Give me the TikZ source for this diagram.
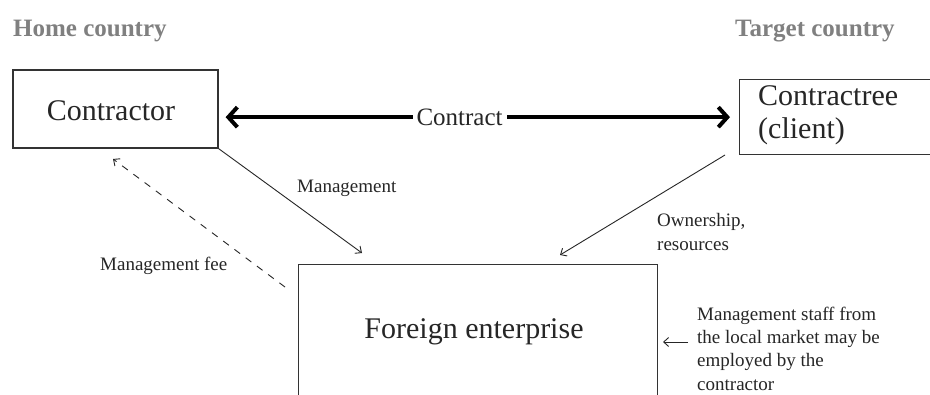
\documentclass[tikz,border=0pt]{standalone}
\usepackage{fontspec}
\setmainfont{Liberation Serif}
\usetikzlibrary{arrows.meta}
\begin{document}
\begin{tikzpicture}[x=1pt,y=-1pt,
  box/.style={draw=black!80, line width=1.3pt, inner sep=0pt},
  big/.style={font=\fontsize{30}{33}\selectfont, text=black!85, inner sep=0pt, align=left},
  lbl/.style={font=\fontsize{19}{23.3}\selectfont, text=black!85, inner sep=0pt, align=left},
  head/.style={font=\bfseries\fontsize{25}{28}\selectfont, text=black!50, inner sep=0pt, anchor=base west},
  thinarrow/.style={line width=0.9pt, draw=black!85, -{Straight Barb[length=5pt,width=9pt]}},
  feearrow/.style={line width=0.9pt, draw=black!85, dash pattern=on 7pt off 7pt, -{Straight Barb[length=5pt,width=9pt]}},
  bigarrow/.style={line width=4pt, draw=black, {Straight Barb[length=9pt,width=20pt]}-{Straight Barb[length=9pt,width=20pt]}}]
\useasboundingbox (0,0) rectangle (930,394);
\clip (0,0) rectangle (930,394);
\fill[white] (0,0) rectangle (930,394);

% column headings
\node[head] (home) at (13,36) {Home country};
\node[head] (target) at (735,36) {Target country};

% the three parties
\node[box, minimum width=205pt, minimum height=78pt] (contractor) at (115.5,109) {};
\node[big, anchor=base] (contractortext) at (111,120) {Contractor};

\node[box, anchor=north west, minimum width=190.5pt, minimum height=75pt] (client) at (739,79) {};
% multi-line nodes sit on the baseline of their last line
\node[big, anchor=base west] (clienttext) at (758,138) {Contractree\\(client)};

\node[box, anchor=north west, minimum width=359pt, minimum height=170pt] (fe) at (298,264) {};
\node[big, anchor=base] (fetext) at (474,338) {Foreign enterprise};

% contract between contractor and client
\draw[bigarrow, shorten <=7pt, shorten >=9pt] (contractor.east |- client.west) -- (client.west)
  node[pos=0.463, fill=white, inner xsep=4pt, inner ysep=2pt, font=\fontsize{25}{28}\selectfont, text=black!85] (contract) {Contract};

% management flow
\coordinate (mgEnd) at (362,253);
\draw[thinarrow] (contractor.south east) -- (mgEnd);
\node[lbl, anchor=base west] (mglbl) at (297,192) {Management};

% ownership and resources from the client
\coordinate (owStart) at (725,155);
\coordinate (owEnd) at (560,255);
\draw[thinarrow] (owStart) -- (owEnd);
\node[lbl, anchor=base west] (owlbl) at (657,250) {Ownership,\\resources};

% management fee back to the contractor
\coordinate (feeStart) at (285,287);
\coordinate (feeEnd) at (113,159);
\draw[feearrow] (feeStart) -- (feeEnd);
\node[lbl, anchor=base west] (feelbl) at (100,270) {Management fee};

% local staff note
\node[lbl, anchor=base west] (staff) at (697,390) {Management staff from\\the local market may be\\employed by the\\contractor};
\coordinate (staffTail) at (688,342);
\coordinate (staffTip) at (663,342);
\draw[thinarrow] (staffTail) -- (staffTip);
\end{tikzpicture}
\end{document}
